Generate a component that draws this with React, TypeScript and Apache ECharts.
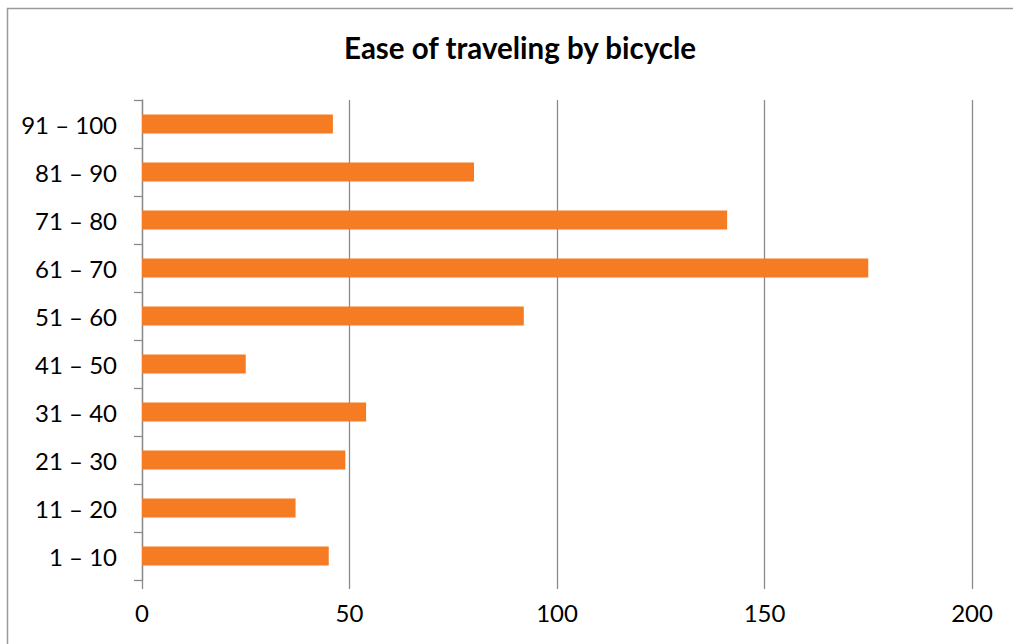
import React, { useEffect, useRef } from "react";
import * as echarts from "echarts";

const categories = ["1 – 10", "11 – 20", "21 – 30", "31 – 40", "41 – 50", "51 – 60", "61 – 70", "71 – 80", "81 – 90", "91 – 100"];
const counts = [45, 37, 49, 54, 25, 92, 175, 141, 80, 46];
const valueTicks = [0, 50, 100, 150, 200];

const FONT = "Lato, 'Open Sans', sans-serif";
const GREY = "#8a8a8a";

export default function App() {
  const ref = useRef<HTMLDivElement>(null);

  useEffect(() => {
    if (!ref.current) return;
    const chart = echarts.init(ref.current, null, { renderer: "svg" });
    chart.setOption({
      animation: false,
      backgroundColor: "#ffffff",
      title: {
        text: "Ease of traveling by bicycle",
        left: 339,
        top: 27,
        textStyle: { fontFamily: FONT, fontWeight: "bold", fontSize: 29.5, color: "#000" },
      },
      graphic: [
        {
          type: "rect",
          shape: { x: 7.5, y: 8.5, width: 1100, height: 1000 },
          style: { fill: "none", stroke: "#9a9a9a", lineWidth: 1.5 },
          silent: true,
        },
      ],
      grid: { left: 142, right: 41, top: 100, bottom: 64, containLabel: false },
      xAxis: {
        type: "value",
        min: valueTicks[0],
        max: valueTicks[valueTicks.length - 1],
        interval: valueTicks[1] - valueTicks[0],
        axisLine: { show: false },
        axisTick: { show: true, length: 9, lineStyle: { color: GREY, width: 1.3 } },
        splitLine: { show: true, lineStyle: { color: GREY, width: 1.3 } },
        axisLabel: { fontFamily: FONT, fontSize: 24, color: "#000", margin: 20 },
      },
      yAxis: {
        type: "category",
        data: categories,
        axisLine: { show: true, lineStyle: { color: GREY, width: 1.3 } },
        axisTick: { show: true, length: 8, lineStyle: { color: GREY, width: 1.3 } },
        axisLabel: { fontFamily: FONT, fontSize: 24, color: "#000", margin: 25 },
      },
      series: [
        {
          type: "bar",
          data: counts,
          barWidth: 19,
          itemStyle: { color: "#F57C22" },
        },
      ],
    });
    return () => chart.dispose();
  }, []);

  return (
    <div
      ref={ref}
      style={{ position: "fixed", left: 0, top: 0, width: 1013, height: 644 }}
    />
  );
}
